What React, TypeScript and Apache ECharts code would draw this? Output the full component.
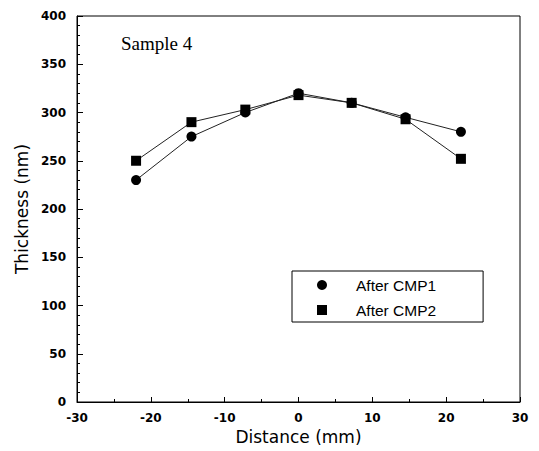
import React, { useEffect, useRef } from "react";
import * as echarts from "echarts";

const distance = [-22, -14.5, -7.2, 0, 7.2, 14.5, 22];
const afterCMP1 = [230, 275, 300, 320, 310, 295, 280];
const afterCMP2 = [250, 290, 303, 318, 310, 293, 252];
const seriesNames = ["After CMP1", "After CMP2"];

export default function App() {
  const ref = useRef<HTMLDivElement>(null);
  useEffect(() => {
    if (!ref.current) return;
    const chart = echarts.init(ref.current, null, { renderer: "svg" });
    const tickFont = { fontFamily: "DejaVu Sans", fontWeight: "bold" as const, fontSize: 12, color: "#000" };
    chart.setOption({
      animation: false,
      backgroundColor: "#fff",
      grid: { left: 77, right: 19, top: 16, bottom: 49, show: true, borderColor: "#000", borderWidth: 1, backgroundColor: "transparent" },
      xAxis: {
        type: "value",
        min: -30,
        max: 30,
        interval: 10,
        name: "Distance (mm)",
        nameLocation: "middle",
        nameGap: 26,
        nameTextStyle: { fontFamily: "DejaVu Sans", fontSize: 17, color: "#000" },
        axisLine: { show: true, onZero: false, lineStyle: { color: "#000", width: 1 } },
        axisTick: { show: true, inside: true, length: 5, lineStyle: { color: "#000" } },
        minorTick: { show: true, splitNumber: 2, length: 3, lineStyle: { color: "#000" } },
        splitLine: { show: false },
        axisLabel: { ...tickFont, margin: 10 },
      },
      yAxis: {
        type: "value",
        min: 0,
        max: 400,
        interval: 50,
        name: "Thickness (nm)",
        nameLocation: "middle",
        nameGap: 46,
        nameTextStyle: { fontFamily: "DejaVu Sans", fontSize: 17, color: "#000" },
        axisLine: { show: true, onZero: false, lineStyle: { color: "#000", width: 1 } },
        axisTick: { show: true, inside: true, length: 6, lineStyle: { color: "#000" } },
        minorTick: { show: true, splitNumber: 5, length: 3, lineStyle: { color: "#000" } },
        splitLine: { show: false },
        axisLabel: { ...tickFont, margin: 11 },
      },
      legend: {
        orient: "vertical",
        left: 292,
        top: 271,
        padding: [6, 47, 4, 25],
        borderColor: "#000",
        borderWidth: 1,
        itemWidth: 10,
        itemHeight: 10,
        itemGap: 9,
        data: [
          { name: seriesNames[0], icon: "circle" },
          { name: seriesNames[1], icon: "rect" },
        ],
        textStyle: { fontFamily: "Liberation Sans", fontSize: 15.5, color: "#000", lineHeight: 16, padding: [0, 0, 0, 24] },
      },
      graphic: [
        {
          type: "text",
          left: 121,
          top: 34,
          style: { text: "Sample 4", fontFamily: "Liberation Serif", fontSize: 19, fill: "#000" },
        },
      ],
      series: [
        {
          name: seriesNames[0],
          type: "line",
          data: distance.map((d, i) => [d, afterCMP1[i]]),
          symbol: "circle",
          symbolSize: 10,
          itemStyle: { color: "#000" },
          lineStyle: { color: "#222", width: 1 },
        },
        {
          name: seriesNames[1],
          type: "line",
          data: distance.map((d, i) => [d, afterCMP2[i]]),
          symbol: "rect",
          symbolSize: 10,
          itemStyle: { color: "#000" },
          lineStyle: { color: "#222", width: 1 },
        },
      ],
    });
    return () => chart.dispose();
  }, []);
  return <div ref={ref} style={{ width: 539, height: 451, position: "absolute", left: 0, top: 0 }} />;
}
